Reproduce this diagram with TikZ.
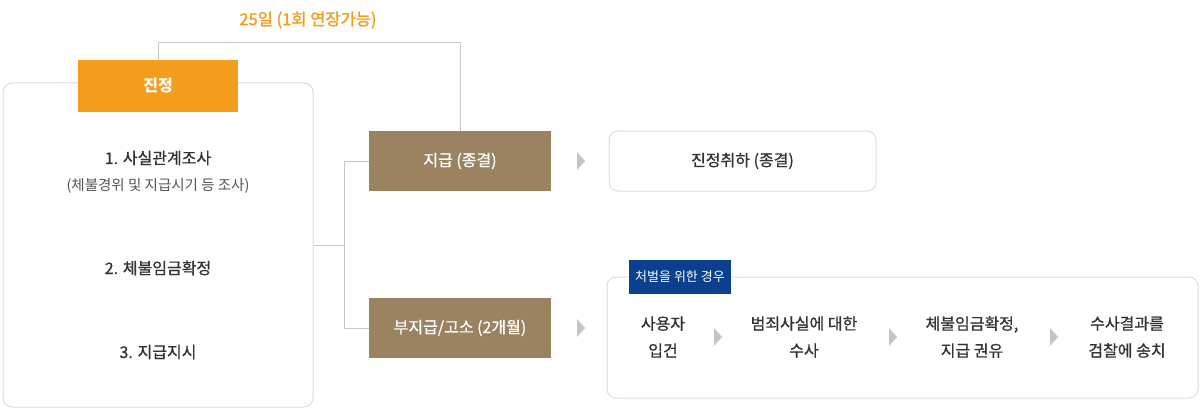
\documentclass[tikz,border=0pt]{standalone}
\usepackage{fontspec}
\setmainfont{Noto Sans CJK KR}
\newfontfamily\medfont{Noto Sans CJK KR}[FakeBold=0.8]
\newfontfamily\semifont{Noto Sans CJK KR}[FakeBold=1.6]
\definecolor{orangec}{HTML}{F59E1E}
\definecolor{brownc}{HTML}{9B8260}
\definecolor{navyc}{HTML}{0B3F8F}
\definecolor{linec}{HTML}{C8C8C8}
\definecolor{panelc}{HTML}{DDDDDD}
\definecolor{txtc}{HTML}{333333}
\definecolor{subc}{HTML}{555555}
\definecolor{chevc}{HTML}{C4C4C4}
\tikzset{
  panel/.style={draw=panelc, line width=1pt, rounded corners=9pt, fill=white, inner sep=0pt},
  brownbox/.style={fill=brownc, text=white, minimum width=182pt, minimum height=60pt, inner sep=0pt, font=\fontsize{16}{20}\selectfont\medfont},
  orangebox/.style={fill=orangec, text=white, minimum width=160pt, minimum height=52pt, inner sep=0pt, font=\fontsize{16}{20}\selectfont\bfseries},
  tagbox/.style={fill=navyc, text=white, minimum width=102pt, minimum height=34pt, inner sep=0pt, font=\fontsize{13}{16}\selectfont},
  lbl/.style={text=txtc, font=\fontsize{16}{20}\selectfont\medfont, inner sep=0pt},
  lbltwo/.style={text=txtc, font=\fontsize{16}{27}\selectfont\medfont, align=center, inner sep=0pt},
  sublbl/.style={text=subc, font=\fontsize{14.5}{17}\selectfont, inner sep=0pt},
  conn/.style={draw=linec, line width=1pt},
  chev/.pic={\fill[chevc] (-4,-9) -- (4,0) -- (-4,9) -- cycle;}
}
\begin{document}
\begin{tikzpicture}[x=1pt,y=-1pt]
\useasboundingbox (0,0) rectangle (1200,420);
\fill[white] (0,0) rectangle (1200,420);
% left panel
\node[panel, minimum width=310pt, minimum height=324pt] (lbox) at (158,245) {};
\node[orangebox] (jin) at (158,86) {진정};
\node[lbl] (s1) at (158,158) {1. 사실관계조사};
\node[sublbl] (s1b) at (158,186) {(체불경위 및 지급시기 등 조사)};
\node[lbl] (s2) at (158,268) {2. 체불임금확정};
\node[lbl] (s3) at (158,352) {3. 지급지시};
% brown boxes
\node[brownbox] (b1) at (460,161) {지급 (종결)};
\node[brownbox] (b2) at (460,328) {부지급/고소 (2개월)};
% top connector and label
\draw[conn] (jin.north) -- ++(0,-17) coordinate (tl) -| (b1.north);
\node[text=orangec, font=\fontsize{16.5}{20}\selectfont\semifont, inner sep=0pt] (dur) at (308,20) {25일 (1회 연장가능)};
% bracket connector
\coordinate (j) at ([xshift=31pt]lbox.east);
\draw[conn] (lbox.east) -- (j);
\draw[conn] (b1.west) -| (j) |- (b2.west);
% chevrons
\pic at (581,161) {chev};
\pic at (581,328) {chev};
% withdrawal box
\node[panel, minimum width=267pt, minimum height=60pt, lbl] (w) at (742.5,161) {진정취하 (종결)};
% right panel
\node[panel, minimum width=591pt, minimum height=121pt] (rbox) at (902.5,337.5) {};
\node[tagbox] (tag) at (680,277) {처벌을 위한 경우};
\node[lbltwo] (r1) at (663,337) {사용자\\입건};
\node[lbltwo] (r2) at (804,337) {범죄사실에 대한\\수사};
\node[lbltwo] (r3) at (972,337) {체불임금확정,\\지급 권유};
\node[lbltwo] (r4) at (1127,337) {수사결과를\\검찰에 송치};
\pic at (718,337) {chev};
\pic at (893,337) {chev};
\pic at (1054,337) {chev};
\end{tikzpicture}
\end{document}
